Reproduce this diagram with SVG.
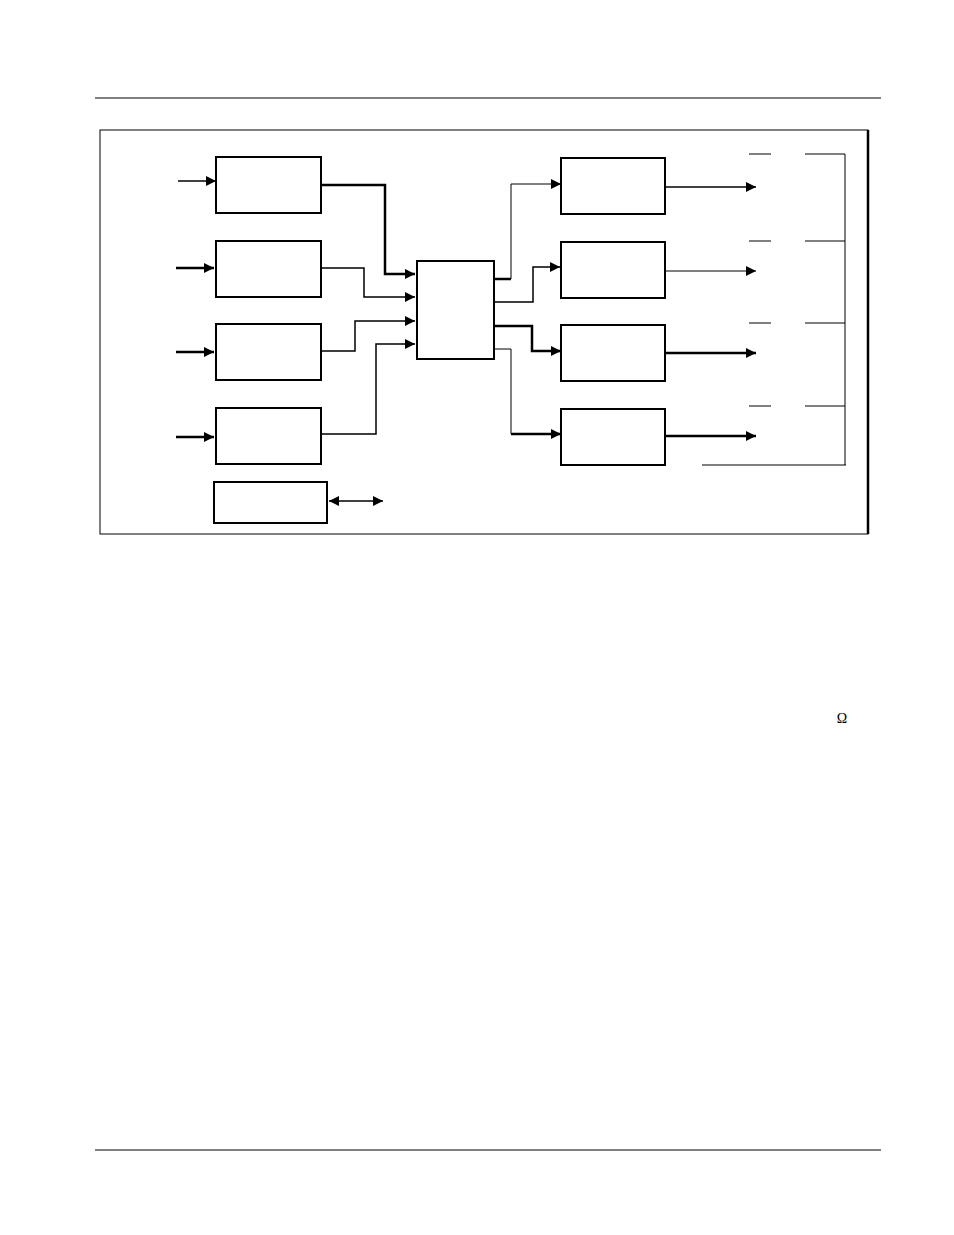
<svg xmlns="http://www.w3.org/2000/svg" width="954" height="1235" viewBox="0 0 954 1235">
<style>
.b{fill:#fff;stroke:#000;stroke-width:2}
.c{fill:none;stroke:#000;stroke-width:1.5}
.t{fill:none;stroke:#000;stroke-width:2.5}
.l{fill:none;stroke:#000;stroke-width:1}
</style>
<defs>
<marker id="a" viewBox="0 0 10 10" refX="10" refY="5" markerWidth="10" markerHeight="10" markerUnits="userSpaceOnUse" orient="auto-start-reverse"><path d="M0,0L10,5L0,10z"/></marker>
</defs>
<rect width="954" height="1235" fill="#fff"/>
<line class="l" x1="95" y1="98" x2="881" y2="98"/>
<line class="l" x1="95" y1="1150" x2="881" y2="1150"/>
<rect x="100" y="130" width="768" height="404" fill="none" stroke="#000" stroke-width="1"/>
<line x1="868" y1="130" x2="868" y2="534" stroke="#000" stroke-width="2.5"/>
<g id="in1"><rect class="b" x="216" y="157" width="105" height="56"/></g>
<g id="in2"><rect class="b" x="216" y="241" width="105" height="56"/></g>
<g id="in3"><rect class="b" x="216" y="324" width="105" height="56"/></g>
<g id="in4"><rect class="b" x="216" y="408" width="105" height="56"/></g>
<g id="ctl"><rect class="b" x="214" y="482" width="113" height="41"/></g>
<g id="hub"><rect class="b" x="417" y="261" width="77" height="98"/></g>
<g id="out1"><rect class="b" x="561" y="158" width="104" height="56"/></g>
<g id="out2"><rect class="b" x="561" y="242" width="104" height="56"/></g>
<g id="out3"><rect class="b" x="561" y="325" width="104" height="56"/></g>
<g id="out4"><rect class="b" x="561" y="409" width="104" height="56"/></g>
<g id="connectors">
<path class="c" d="M178,181H216" marker-end="url(#a)"/>
<path class="t" d="M176,268H214" marker-end="url(#a)"/>
<path class="t" d="M176,352H214" marker-end="url(#a)"/>
<path class="t" d="M176,437H214" marker-end="url(#a)"/>
<path class="t" d="M321,185H385V274H415" marker-end="url(#a)"/>
<path class="c" d="M321,268H364V297H415" marker-end="url(#a)"/>
<path class="c" d="M321,351H355V321H415" marker-end="url(#a)"/>
<path class="c" d="M321,434H376V344H415" marker-end="url(#a)"/>
<path class="c" d="M329,501H383" marker-start="url(#a)" marker-end="url(#a)"/>
<path class="t" d="M494,279H511"/>
<path class="l" d="M511,279V184H561" marker-end="url(#a)"/>
<path class="c" d="M494,302H533V267H560" marker-end="url(#a)"/>
<path class="t" d="M494,326H532V351H561" marker-end="url(#a)"/>
<path class="l" d="M494,349H511V434"/>
<path class="t" d="M511,434H561" marker-end="url(#a)"/>
<path class="c" d="M665,187H756" marker-end="url(#a)"/>
<path class="l" d="M665,271H756" marker-end="url(#a)"/>
<path class="t" d="M665,353H756" marker-end="url(#a)"/>
<path class="t" d="M665,436H756" marker-end="url(#a)"/>
<path class="l" d="M749,154H771M805,154H845M749,241H771M805,241H845M749,323H771M805,323H845M749,406H771M805,406H845M845,154V465M702,465H846"/>
</g>
<text x="842" y="723" font-family="Liberation Serif, serif" font-size="14" text-anchor="middle">Ω</text>
</svg>
